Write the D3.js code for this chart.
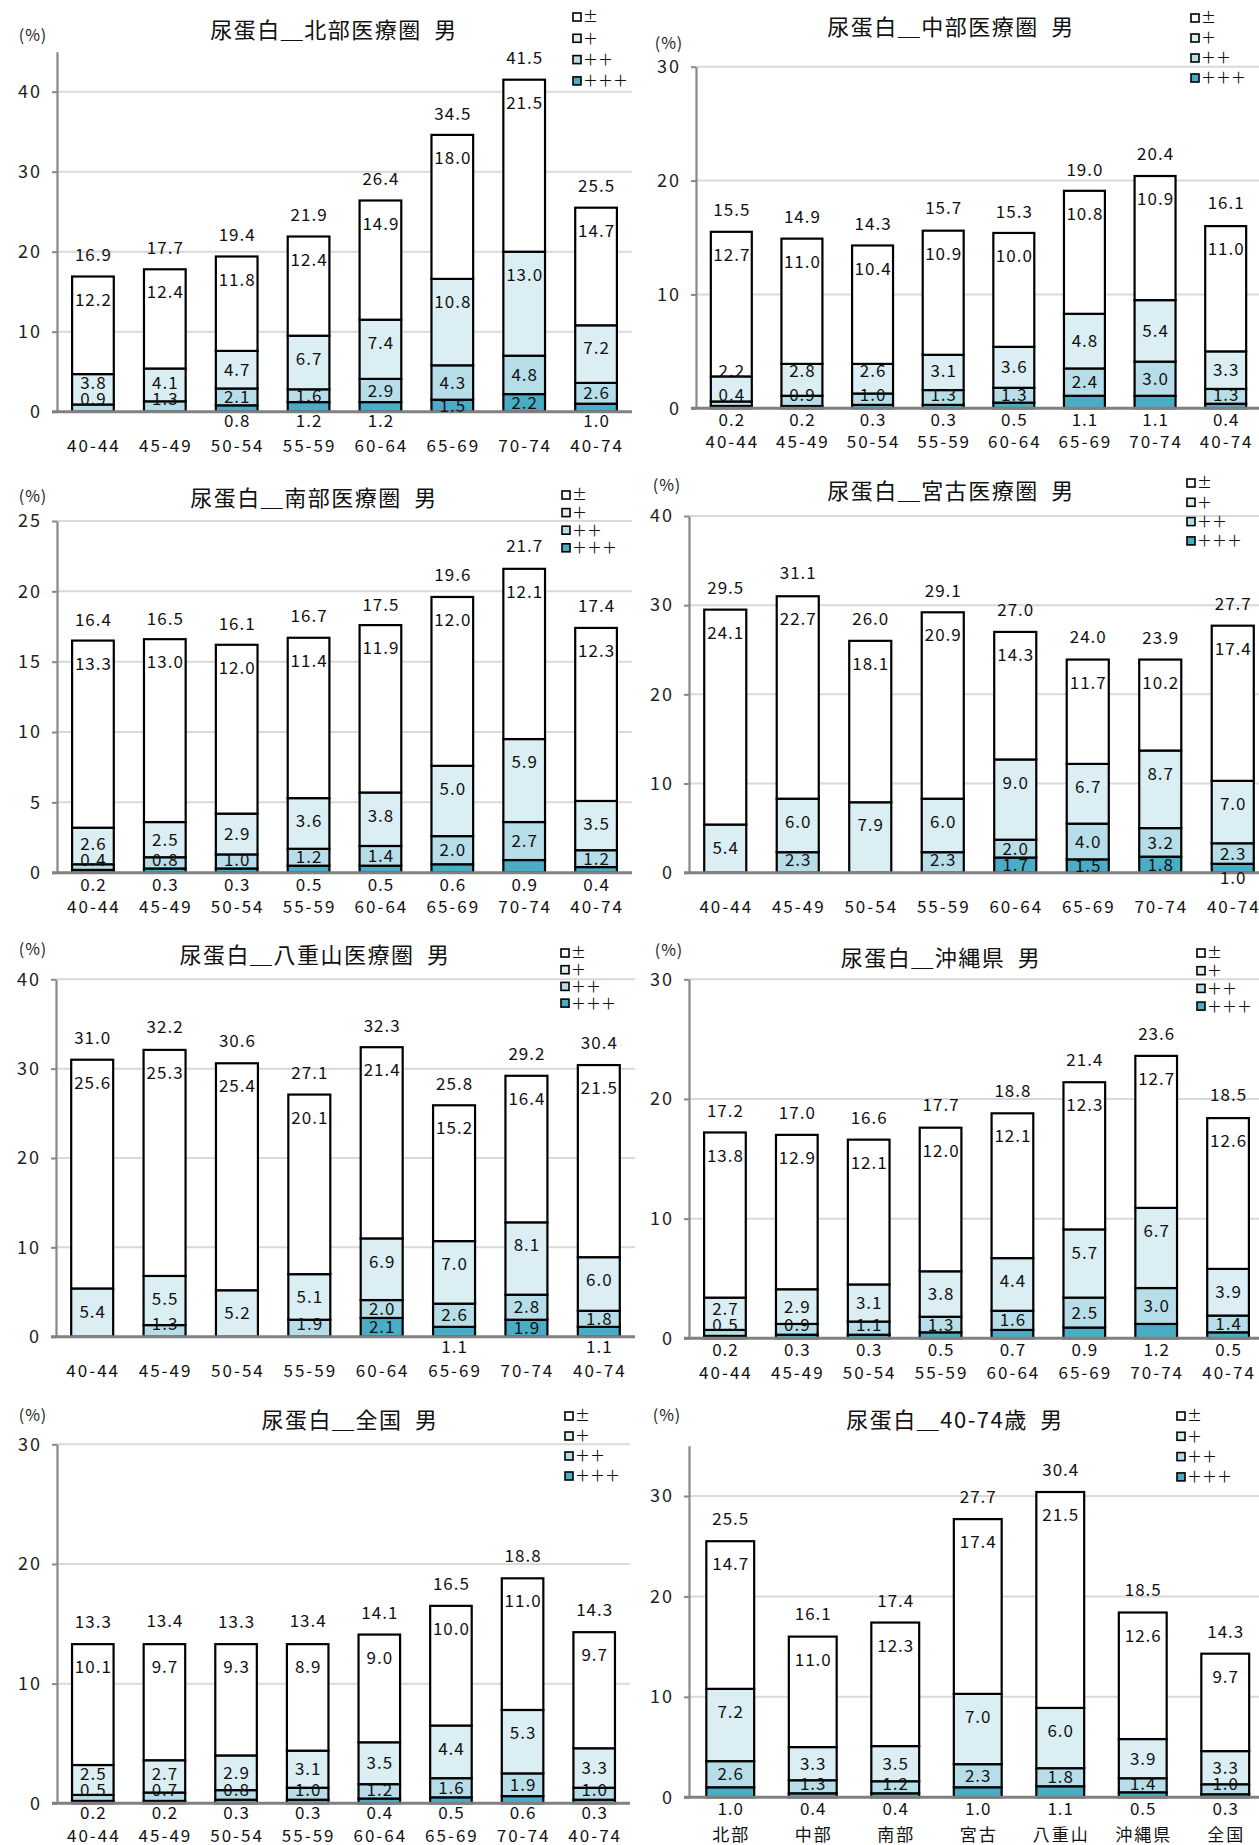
<!DOCTYPE html>
<html>
<head>
<meta charset="utf-8">
<script src="https://cdn.jsdelivr.net/npm/d3@7"></script>
<style>
  html, body { margin: 0; padding: 0; background: #fff; }
  svg { display: block; font-family: "Noto Sans CJK JP", "Noto Sans", sans-serif; }
</style>
</head>
<body>
<svg id="chart" width="1259" height="1845"></svg>
<script>
// ---------- categories ----------
const ageGroups = ["40-44","45-49","50-54","55-59","60-64","65-69","70-74","40-74"];
const areas = ["北部","中部","南部","宮古","八重山","沖縄県","全国"];
const gradeLabels = ["±","＋","＋＋","＋＋＋"];

// ---------- 北部医療圏 ----------
const hokubuPM    = [12.2, 12.4, 11.8, 12.4, 14.9, 18.0, 21.5, 14.7];
const hokubuP1    = [3.8, 4.1, 4.7, 6.7, 7.4, 10.8, 13.0, 7.2];
const hokubuP2    = [0.9, 1.3, 2.1, 1.6, 2.9, 4.3, 4.8, 2.6];
const hokubuP3    = [0, 0, 0.8, 1.2, 1.2, 1.5, 2.2, 1.0];
const hokubuTotal = [16.9, 17.7, 19.4, 21.9, 26.4, 34.5, 41.5, 25.5];

// ---------- 中部医療圏 ----------
const chubuPM    = [12.7, 11.0, 10.4, 10.9, 10.0, 10.8, 10.9, 11.0];
const chubuP1    = [2.2, 2.8, 2.6, 3.1, 3.6, 4.8, 5.4, 3.3];
const chubuP2    = [0.4, 0.9, 1.0, 1.3, 1.3, 2.4, 3.0, 1.3];
const chubuP3    = [0.2, 0.2, 0.3, 0.3, 0.5, 1.1, 1.1, 0.4];
const chubuTotal = [15.5, 14.9, 14.3, 15.7, 15.3, 19.0, 20.4, 16.1];

// ---------- 南部医療圏 ----------
const nanbuPM    = [13.3, 13.0, 12.0, 11.4, 11.9, 12.0, 12.1, 12.3];
const nanbuP1    = [2.6, 2.5, 2.9, 3.6, 3.8, 5.0, 5.9, 3.5];
const nanbuP2    = [0.4, 0.8, 1.0, 1.2, 1.4, 2.0, 2.7, 1.2];
const nanbuP3    = [0.2, 0.3, 0.3, 0.5, 0.5, 0.6, 0.9, 0.4];
const nanbuTotal = [16.4, 16.5, 16.1, 16.7, 17.5, 19.6, 21.7, 17.4];

// ---------- 宮古医療圏 ----------
const miyakoPM    = [24.1, 22.7, 18.1, 20.9, 14.3, 11.7, 10.2, 17.4];
const miyakoP1    = [5.4, 6.0, 7.9, 6.0, 9.0, 6.7, 8.7, 7.0];
const miyakoP2    = [0, 2.3, 0, 2.3, 2.0, 4.0, 3.2, 2.3];
const miyakoP3    = [0, 0, 0, 0, 1.7, 1.5, 1.8, 1.0];
const miyakoTotal = [29.5, 31.1, 26.0, 29.1, 27.0, 24.0, 23.9, 27.7];

// ---------- 八重山医療圏 ----------
const yaeyamaPM    = [25.6, 25.3, 25.4, 20.1, 21.4, 15.2, 16.4, 21.5];
const yaeyamaP1    = [5.4, 5.5, 5.2, 5.1, 6.9, 7.0, 8.1, 6.0];
const yaeyamaP2    = [0, 1.3, 0, 1.9, 2.0, 2.6, 2.8, 1.8];
const yaeyamaP3    = [0, 0, 0, 0, 2.1, 1.1, 1.9, 1.1];
const yaeyamaTotal = [31.0, 32.2, 30.6, 27.1, 32.3, 25.8, 29.2, 30.4];

// ---------- 沖縄県 ----------
const okinawaPM    = [13.8, 12.9, 12.1, 12.0, 12.1, 12.3, 12.7, 12.6];
const okinawaP1    = [2.7, 2.9, 3.1, 3.8, 4.4, 5.7, 6.7, 3.9];
const okinawaP2    = [0.5, 0.9, 1.1, 1.3, 1.6, 2.5, 3.0, 1.4];
const okinawaP3    = [0.2, 0.3, 0.3, 0.5, 0.7, 0.9, 1.2, 0.5];
const okinawaTotal = [17.2, 17.0, 16.6, 17.7, 18.8, 21.4, 23.6, 18.5];

// ---------- 全国 ----------
const zenkokuPM    = [10.1, 9.7, 9.3, 8.9, 9.0, 10.0, 11.0, 9.7];
const zenkokuP1    = [2.5, 2.7, 2.9, 3.1, 3.5, 4.4, 5.3, 3.3];
const zenkokuP2    = [0.5, 0.7, 0.8, 1.0, 1.2, 1.6, 1.9, 1.0];
const zenkokuP3    = [0.2, 0.2, 0.3, 0.3, 0.4, 0.5, 0.6, 0.3];
const zenkokuTotal = [13.3, 13.4, 13.3, 13.4, 14.1, 16.5, 18.8, 14.3];

// ---------- 40-74歳 (by area) ----------
const allAgePM    = [14.7, 11.0, 12.3, 17.4, 21.5, 12.6, 9.7];
const allAgeP1    = [7.2, 3.3, 3.5, 7.0, 6.0, 3.9, 3.3];
const allAgeP2    = [2.6, 1.3, 1.2, 2.3, 1.8, 1.4, 1.0];
const allAgeP3    = [1.0, 0.4, 0.4, 1.0, 1.1, 0.5, 0.3];
const allAgeTotal = [25.5, 16.1, 17.4, 27.7, 30.4, 18.5, 14.3];

// ---------- tick values ----------
const ticks10to40 = [0, 10, 20, 30, 40];
const ticks10to30 = [0, 10, 20, 30];
const ticks5to25  = [0, 5, 10, 15, 20, 25];

// ---------- styles ----------
const colors = { pm: "#ffffff", p1: "#daeef3", p2: "#b7dee8", p3: "#4bacc6" };
const keys = ["p3", "p2", "p1", "pm"];       // stacking order bottom -> top
const legendKeys = ["pm", "p1", "p2", "p3"];
const SP = "\u2002";

const panels = [
  { title: "尿蛋白＿北部医療圏" + SP + "男", cats: ageGroups, pm: hokubuPM, p1: hokubuP1, p2: hokubuP2, p3: hokubuP3, total: hokubuTotal,
    max: 45, ticks: ticks10to40, xr: [57, 632], base: 411.7, top: 51.7,
    titleX: 334, titleY: 30, pctX: 33, pctY: 35, legX: 573, legY: 17, legGap: 21.3, plusCenter: false, xLabOff: 34, belowOff: 9 },
  { title: "尿蛋白＿中部医療圏" + SP + "男", cats: ageGroups, pm: chubuPM, p1: chubuP1, p2: chubuP2, p3: chubuP3, total: chubuTotal,
    max: 30, ticks: ticks10to30, xr: [696, 1261], base: 408.3, top: 66.7,
    titleX: 951, titleY: 27, pctX: 669, pctY: 43, legX: 1191, legY: 18, legGap: 20, plusCenter: true, xLabOff: 34, belowOff: 12 },
  { title: "尿蛋白＿南部医療圏" + SP + "男", cats: ageGroups, pm: nanbuPM, p1: nanbuP1, p2: nanbuP2, p3: nanbuP3, total: nanbuTotal,
    max: 25, ticks: ticks5to25, xr: [57, 632], base: 872.7, top: 521,
    titleX: 314, titleY: 498, pctX: 33, pctY: 496, legX: 562, legY: 495, legGap: 17.6, plusCenter: false, xLabOff: 34, belowOff: 12 },
  { title: "尿蛋白＿宮古医療圏" + SP + "男", cats: ageGroups, pm: miyakoPM, p1: miyakoP1, p2: miyakoP2, p3: miyakoP3, total: miyakoTotal,
    max: 40, ticks: ticks10to40, xr: [689, 1269], base: 872.7, top: 516,
    titleX: 951, titleY: 491, pctX: 667, pctY: 485, legX: 1187, legY: 483, legGap: 19.3, plusCenter: false, xLabOff: 34, belowOff: 5 },
  { title: "尿蛋白＿八重山医療圏" + SP + "男", cats: ageGroups, pm: yaeyamaPM, p1: yaeyamaP1, p2: yaeyamaP2, p3: yaeyamaP3, total: yaeyamaTotal,
    max: 40, ticks: ticks10to40, xr: [56, 635], base: 1336.7, top: 979.3,
    titleX: 315, titleY: 955, pctX: 33, pctY: 949, legX: 561, legY: 953, legGap: 16.7, plusCenter: false, xLabOff: 34, belowOff: 10 },
  { title: "尿蛋白＿沖縄県" + SP + "男", cats: ageGroups, pm: okinawaPM, p1: okinawaP1, p2: okinawaP2, p3: okinawaP3, total: okinawaTotal,
    max: 30, ticks: ticks10to30, xr: [689, 1264], base: 1338.3, top: 979.3,
    titleX: 941, titleY: 958, pctX: 669, pctY: 950, legX: 1197, legY: 953, legGap: 17.7, plusCenter: false, xLabOff: 35, belowOff: 12 },
  { title: "尿蛋白＿全国" + SP + "男", cats: ageGroups, pm: zenkokuPM, p1: zenkokuP1, p2: zenkokuP2, p3: zenkokuP3, total: zenkokuTotal,
    max: 30, ticks: ticks10to30, xr: [57, 630], base: 1803.3, top: 1444.3,
    titleX: 350, titleY: 1420, pctX: 33, pctY: 1415, legX: 565, legY: 1416, legGap: 20, plusCenter: false, xLabOff: 33, belowOff: 10 },
  { title: "尿蛋白＿40-74歳" + SP + "男", cats: areas, pm: allAgePM, p1: allAgeP1, p2: allAgeP2, p3: allAgeP3, total: allAgeTotal,
    max: 35, ticks: ticks10to30, xr: [689, 1266.5], base: 1797.3, top: 1445.8,
    titleX: 955, titleY: 1420, pctX: 667, pctY: 1415, legX: 1177, legY: 1416, legGap: 20.3, plusCenter: false, xLabOff: 38, belowOff: 12 }
];

const svg = d3.select("#chart");
svg.append("rect").attr("width", 1259).attr("height", 1845).attr("fill", "#fff");
const fmt = d3.format(".1f");

panels.forEach(p => {
  const g = svg.append("g");
  const x = d3.scaleBand().domain(p.cats).range(p.xr).paddingInner(0.42).paddingOuter(0.21);
  const y = d3.scaleLinear().domain([0, p.max]).range([p.base, p.top]);
  const axisX = p.xr[0];
  const gridEnd = Math.min(p.xr[1], 1259);

  // gridlines
  g.selectAll("line.grid").data(p.ticks.filter(t => t > 0)).enter().append("line")
    .attr("x1", axisX).attr("x2", gridEnd)
    .attr("y1", d => y(d)).attr("y2", d => y(d))
    .attr("stroke", "#d9d9d9").attr("stroke-width", 2);

  // y axis
  const yAxis = d3.axisLeft(y).tickValues(p.ticks).tickSize(5).tickSizeOuter(0).tickFormat(d3.format("d"));
  const ya = g.append("g").attr("transform", `translate(${axisX},0)`).call(yAxis);
  ya.select(".domain").attr("stroke", "#888").attr("stroke-width", 2.2);
  ya.selectAll(".tick line").attr("stroke", "#888").attr("stroke-width", 2);
  ya.selectAll(".tick text").attr("x", -15).attr("font-size", 18).attr("letter-spacing", 2)
    .attr("fill", "#222").attr("font-family", "Noto Sans CJK JP, Noto Sans, sans-serif");

  // stacked data
  const rows = p.cats.map((c, i) => ({ cat: c, pm: p.pm[i], p1: p.p1[i], p2: p.p2[i], p3: p.p3[i], total: p.total[i] }));
  const stacked = d3.stack().keys(keys)(rows);

  stacked.forEach(layer => {
    g.selectAll(null).data(layer.filter(d => d[1] - d[0] > 0)).enter().append("rect")
      .attr("x", d => x(d.data.cat))
      .attr("width", x.bandwidth())
      .attr("y", d => y(d[1]))
      .attr("height", d => y(d[0]) - y(d[1]))
      .attr("fill", colors[layer.key])
      .attr("stroke", "#000").attr("stroke-width", 2.2);
  });

  // baseline
  g.append("line").attr("x1", axisX - 5).attr("x2", gridEnd)
    .attr("y1", p.base).attr("y2", p.base)
    .attr("stroke", "#808080").attr("stroke-width", 3);

  // segment labels
  const labels = [];
  rows.forEach((r, i) => {
    const cx = x(r.cat) + x.bandwidth() / 2;
    let prev = null;
    keys.forEach(k => {
      const layer = stacked.find(s => s.key === k);
      const d = layer[i];
      const v = r[k];
      if (!(v > 0)) return;
      const yb = y(d[0]), yt = y(d[1]);
      const mid = (yb + yt) / 2;
      let ly;
      if (k === "p3") {
        if (v >= 1.4) { ly = mid; prev = ly; }
        else { ly = p.base + p.belowOff; }
      } else {
        if (k === "p1" && p.plusCenter) ly = mid;
        else ly = Math.min(yt + 23, mid);
        if (prev === null) ly = Math.min(ly, p.base - 13);
        else ly = Math.min(ly, prev - (k === "p1" && p.plusCenter ? 24 : 16));
        prev = ly;
      }
      labels.push({ x: cx, y: ly, t: fmt(v) });
    });
    labels.push({ x: cx, y: y(r.total) - 22, t: fmt(r.total) });
  });
  g.selectAll(null).data(labels).enter().append("text")
    .attr("x", d => d.x + 0.5).attr("y", d => d.y).attr("dy", "0.36em")
    .attr("text-anchor", "middle").attr("font-size", 17).attr("letter-spacing", 1)
    .attr("fill", "#111").text(d => d.t);

  // x category labels
  g.selectAll(null).data(p.cats).enter().append("text")
    .attr("x", d => x(d) + x.bandwidth() / 2 + 1)
    .attr("y", p.base + p.xLabOff).attr("dy", "0.36em")
    .attr("text-anchor", "middle").attr("font-size", 17).attr("letter-spacing", 2)
    .attr("fill", "#111").text(d => d);

  // title
  g.append("text").attr("x", p.titleX).attr("y", p.titleY).attr("dy", "0.36em")
    .attr("text-anchor", "middle").attr("font-size", 22).attr("letter-spacing", 1.5)
    .attr("fill", "#111").text(p.title);

  // unit
  g.append("text").attr("x", p.pctX).attr("y", p.pctY).attr("dy", "0.36em")
    .attr("text-anchor", "middle").attr("font-size", 16).attr("letter-spacing", 1)
    .attr("fill", "#222").text("(%)");

  // legend
  legendKeys.forEach((k, j) => {
    const ly = p.legY + j * p.legGap;
    g.append("rect").attr("x", p.legX).attr("y", ly - 4).attr("width", 8).attr("height", 8)
      .attr("fill", colors[k]).attr("stroke", "#000").attr("stroke-width", 1.6);
    g.append("text").attr("x", p.legX + 10).attr("y", ly).attr("dy", "0.36em")
      .attr("font-size", 15).attr("fill", "#111").text(gradeLabels[j]);
  });
});
</script>
</body>
</html>
